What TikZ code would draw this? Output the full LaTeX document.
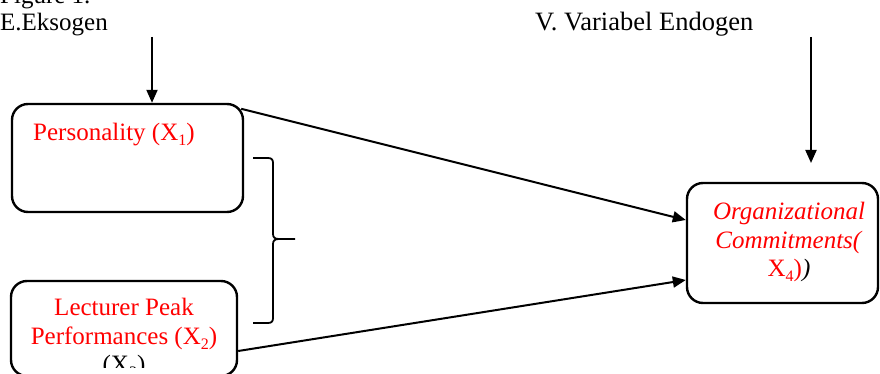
\documentclass[tikz,border=0pt]{standalone}
\usepackage{fontspec}
\setmainfont{Liberation Serif}
\usetikzlibrary{arrows.meta,calc}
\definecolor{wred}{RGB}{255,0,0}
\newcommand{\subsc}[1]{\raisebox{-0.2em}{\fontsize{16}{16}\selectfont #1}}
\tikzset{
  txt/.style={inner sep=0pt, font=\fontsize{25}{28.5}\selectfont},
  rtxt/.style={txt, text=wred},
  boxnode/.style={draw, line width=2.4pt, rounded corners=16pt, inner sep=0pt},
  arr/.style={line width=2pt, -{Triangle[length=13pt,width=11pt]}},
}
\begin{document}
\begin{tikzpicture}[x=1pt,y=-1pt]
\useasboundingbox (0,0) rectangle (880,374);
\clip (0,0) rectangle (880,374);
% labels
\node[txt, anchor=base west] (fig) at (0,4) {Figure 1.};
\node[txt, anchor=base west] (exo) at (0,31) {E.Eksogen};
\node[txt, anchor=base west, font=\fontsize{26.5}{28.5}\selectfont] (endo) at (535,31) {V. Variabel Endogen};
% boxes
\node[boxnode, minimum width=231pt, minimum height=108pt] (b1) at (127.5,158) {};
\node[boxnode, minimum width=226pt, minimum height=95pt] (b2) at (124,328.5) {};
\node[boxnode, minimum width=191pt, minimum height=120pt] (b3) at (782.5,243) {};
% box texts
\node[rtxt, anchor=base west] (t1) at (33,141) {Personality (X\subsc{1})};
\begin{scope}
\clip (13,283) rectangle (235,367);
\node[rtxt, align=center] (t2) at (124,338) {Lecturer Peak\\Performances (X\subsc{2})\\\textcolor{black}{(X\subsc{3})}};
\end{scope}
\node[rtxt, align=center] (t3) at (789,242) {\textit{Organizational}\\\textit{Commitments(}\\X\subsc{4})\textcolor{black}{\textit{)}}};
% vertical arrows
\coordinate (topL) at (152,37);
\coordinate (topR) at (811,37);
\coordinate (endR) at (811,163);
\draw[arr] (topL) -- ([xshift=24.5pt]b1.north);
\draw[arr] (topR) -- (endR);
% connectors to endogenous box
\draw[arr] ([xshift=-3pt,yshift=-6pt]b1.north east) -- ([yshift=23pt]b3.west);
\draw[arr] ([yshift=-22.5pt]b2.east) -- ([yshift=-37pt]b3.west);
% brace
\draw[line width=1.8pt]
  (253,158) -- (268,158) .. controls (271.5,158) and (273,159.5) .. (273,163)
  -- (273,234) .. controls (273,237.5) and (275,239) .. (279,239) -- (295,239)
  (279,239) .. controls (275,239) and (273,240.5) .. (273,244)
  -- (273,318) .. controls (273,321.5) and (271.5,323) .. (268,323) -- (253,323);
\end{tikzpicture}
\end{document}
